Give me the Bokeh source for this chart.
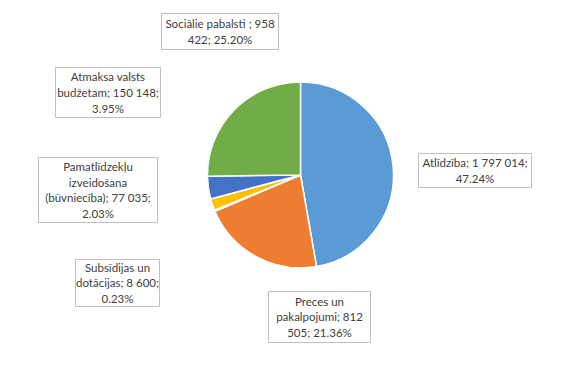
import math
import textwrap
from bokeh.plotting import figure
from bokeh.models import Range1d, ColumnDataSource
from bokeh.core.properties import value
from bokeh.embed import file_html
from bokeh.resources import INLINE

# ---- data ----
categories = ["Atlīdzība", "Preces un pakalpojumi", "Subsīdijas un dotācijas",
              "Pamatlīdzekļu izveidošana (būvniecība)", "Atmaksa valsts budžetam",
              "Sociālie pabalsti "]
amounts = [1797014, 812505, 8600, 77035, 150148, 958422]
colors = ["#5B9BD5", "#ED7D31", "#A5A5A5", "#FFC000", "#4472C4", "#70AD47"]

# ---- layout (page pixel coordinates) ----
W, H = 560, 364
def Y(py):
    return H - py

cx, cy, R = 300, 174.5, 93
# label boxes: x0, x1, y0, y1 and wrap width (chars)
boxes = [
    (418, 531, 153, 187, 21),
    (268, 370, 291, 342, 16),
    (75, 159, 259, 306, 17),
    (38, 157, 157, 222, 21),
    (55, 160, 67, 117, 18),
    (161, 278, 13, 49, 23),
]

total = sum(amounts)
starts, ends = [], []
cum = 0.0
for a in amounts:
    frac0 = cum / total
    cum += a
    frac1 = cum / total
    # clockwise from 12 o'clock
    starts.append(math.pi / 2 - 2 * math.pi * frac1)
    ends.append(math.pi / 2 - 2 * math.pi * frac0)

labels = []
for c, a in zip(categories, amounts):
    s = f"{c}; {a:,}; {a / total * 100:.2f}%".replace(",", " ")
    labels.append(s)

p = figure(width=W, height=H, output_backend="svg", toolbar_location=None,
           x_range=Range1d(0, W), y_range=Range1d(0, H),
           min_border=0, min_border_left=0, min_border_right=0,
           min_border_top=0, min_border_bottom=0)
p.xaxis.visible = False
p.yaxis.visible = False
p.grid.visible = False
p.outline_line_color = None
p.background_fill_color = "white"
p.border_fill_color = "white"

src = ColumnDataSource(dict(start=starts, end=ends, color=colors))
p.wedge(x=cx, y=Y(cy), radius=R, start_angle="start", end_angle="end",
        fill_color="color", line_color="white", line_width=1.5, source=src)

bx, by, bw, bh, txt = [], [], [], [], []
for (x0, x1, y0, y1, wrap), lab in zip(boxes, labels):
    bx.append((x0 + x1) / 2)
    by.append(Y((y0 + y1) / 2))
    bw.append(x1 - x0)
    bh.append(y1 - y0)
    txt.append("\n".join(textwrap.wrap(lab, width=wrap)))

bsrc = ColumnDataSource(dict(x=bx, y=by, w=bw, h=bh, text=txt))
p.rect(x="x", y="y", width="w", height="h", fill_color="white",
       line_color="#BFBFBF", line_width=1, source=bsrc)
p.text(x="x", y="y", text="text", text_align="center", text_baseline="middle",
       text_font=value("Lato"), text_font_size="11.5px", text_color="#404040",
       text_line_height=1.2, source=bsrc)

open("out.html", "w").write(file_html(p, INLINE))
